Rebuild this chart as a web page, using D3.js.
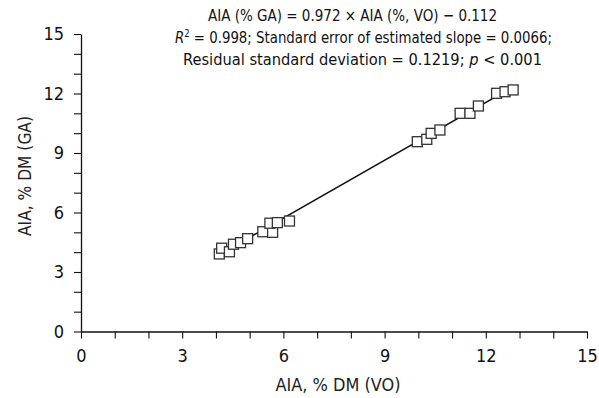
<!DOCTYPE html>
<html>
<head>
<meta charset="utf-8">
<script src="https://cdn.jsdelivr.net/npm/d3@7"></script>
<style>
  body { margin: 0; background: #fff; }
  svg { font-family: "DejaVu Sans Condensed", "Liberation Sans Narrow", sans-serif; }
</style>
</head>
<body>
<svg id="chart" width="599" height="398"></svg>
<script>
// measured values, AIA % DM
const voValues = [4.10, 4.17, 4.40, 4.52, 4.73, 4.94, 5.39, 5.68, 5.60, 5.82, 6.18,
                  9.97, 10.25, 10.38, 10.64, 11.24, 11.53, 11.78, 12.32, 12.57, 12.81];
const gaValues = [3.91, 4.20, 4.02, 4.40, 4.48, 4.68, 5.03, 5.00, 5.46, 5.49, 5.57,
                  9.57, 9.69, 9.99, 10.16, 11.00, 11.00, 11.37, 12.01, 12.09, 12.18];
const slope = 0.972, intercept = -0.112;
const majorTicks = [0, 3, 6, 9, 12, 15];
const minorTicks = d3.range(0, 16);

const margin = { top: 34, right: 12, bottom: 66.5, left: 81 };
const width = 599 - margin.left - margin.right;
const height = 398 - margin.top - margin.bottom;

const svg = d3.select('#chart');
const g = svg.append('g').attr('transform', 'translate(' + margin.left + ',' + margin.top + ')');

const x = d3.scaleLinear().domain([0, 15]).range([0, width]);
const y = d3.scaleLinear().domain([0, 15]).range([height, 0]);

// axes: a tick every unit, labels every 3
const xAxis = g.append('g').attr('transform', 'translate(0,' + height + ')')
  .call(d3.axisBottom(x).tickValues(minorTicks).tickSize(7).tickPadding(11).tickSizeOuter(0)
    .tickFormat(d => majorTicks.includes(d) ? d : ''));
const yAxis = g.append('g')
  .call(d3.axisLeft(y).tickValues(minorTicks).tickSize(7).tickPadding(10).tickSizeOuter(0)
    .tickFormat(d => majorTicks.includes(d) ? d : ''));

[xAxis, yAxis].forEach(a => {
  a.select('.domain').attr('stroke', '#111').attr('stroke-width', 1.3);
  a.selectAll('.tick line').attr('stroke', '#111').attr('stroke-width', 1.1);
  a.selectAll('.tick text').attr('font-size', 18).attr('fill', '#111')
    .attr('font-family', '"DejaVu Sans Condensed", "Liberation Sans Narrow", sans-serif');
});

// regression line
const xMin = d3.min(voValues), xMax = d3.max(voValues);
g.append('line')
  .attr('x1', x(xMin)).attr('y1', y(slope * xMin + intercept))
  .attr('x2', x(xMax)).attr('y2', y(slope * xMax + intercept))
  .attr('stroke', '#111').attr('stroke-width', 1.5);

// points
const s = 10;
g.selectAll('.pt').data(voValues).enter().append('rect')
  .attr('class', 'pt')
  .attr('x', d => x(d) - s / 2)
  .attr('y', (d, i) => y(gaValues[i]) - s / 2)
  .attr('width', s).attr('height', s)
  .attr('fill', '#fff').attr('stroke', '#333').attr('stroke-width', 1.3);

// axis titles
svg.append('text').attr('x', 338).attr('y', 391)
  .attr('text-anchor', 'middle').attr('font-size', 18).attr('fill', '#222')
  .attr('textLength', 125).attr('lengthAdjust', 'spacingAndGlyphs')
  .text('AIA, % DM (VO)');
svg.append('text').attr('transform', 'translate(31,176) rotate(-90)')
  .attr('text-anchor', 'middle').attr('font-size', 18).attr('fill', '#222')
  .attr('textLength', 120).attr('lengthAdjust', 'spacingAndGlyphs')
  .text('AIA, % DM (GA)');

// annotation
const ann = svg.append('g').attr('font-size', 16).attr('fill', '#111').attr('text-anchor', 'middle');
ann.append('text').attr('x', 352.5).attr('y', 21)
  .attr('textLength', 289).attr('lengthAdjust', 'spacingAndGlyphs')
  .text('AIA (% GA) = 0.972 × AIA (%, VO) − 0.112');
const l2 = ann.append('text').attr('x', 363.5).attr('y', 43)
  .attr('textLength', 377).attr('lengthAdjust', 'spacingAndGlyphs');
l2.append('tspan').attr('font-style', 'italic').text('R');
l2.append('tspan').attr('font-size', 10).attr('dy', -6).text('2');
l2.append('tspan').attr('dy', 6).text(' = 0.998; Standard error of estimated slope = 0.0066;');
const l3 = ann.append('text').attr('x', 362.5).attr('y', 65)
  .attr('textLength', 359).attr('lengthAdjust', 'spacingAndGlyphs');
l3.append('tspan').text('Residual standard deviation = 0.1219; ');
l3.append('tspan').attr('font-style', 'italic').text('p');
l3.append('tspan').text(' < 0.001');
</script>
</body>
</html>
